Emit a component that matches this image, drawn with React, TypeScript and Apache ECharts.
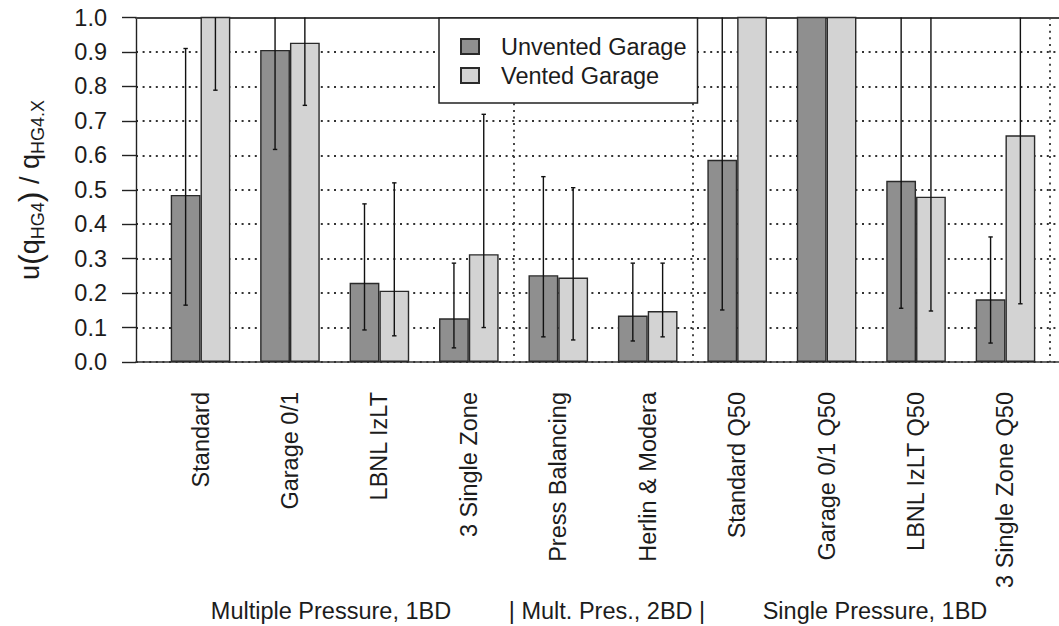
import React, { useEffect, useRef } from 'react';
import * as echarts from 'echarts';

const categories = [
  'Standard',
  'Garage 0/1',
  'LBNL IzLT',
  '3 Single Zone',
  'Press Balancing',
  'Herlin & Modera',
  'Standard Q50',
  'Garage 0/1 Q50',
  'LBNL IzLT Q50',
  '3 Single Zone Q50',
];
const seriesNames = ['Unvented Garage', 'Vented Garage'];
const unvented = [0.485, 0.906, 0.23, 0.127, 0.252, 0.135, 0.587, 1.15, 0.526, 0.182];
const vented = [1.12, 0.927, 0.207, 0.313, 0.245, 0.148, 1.15, 1.15, 0.48, 0.658];
const unventedLow = [0.165, 0.617, 0.093, 0.041, 0.073, 0.061, 0.151, null, 0.156, 0.055];
const unventedHigh = [0.91, 1.2, 0.459, 0.287, 0.538, 0.287, 1.25, null, 1.2, 0.363];
const ventedLow = [0.789, 0.745, 0.076, 0.1, 0.064, 0.073, null, null, 0.148, 0.169];
const ventedHigh = [1.3, 1.2, 0.52, 0.719, 0.506, 0.287, null, null, 1.2, 1.3];
const groupTitles = ['Multiple Pressure, 1BD', '| Mult. Pres., 2BD |', 'Single Pressure, 1BD'];
const groupBoundaries = [4, 6];

const FONT = '"Liberation Sans", Arial, Helvetica, sans-serif';
const FS = 23.5;
const BAR_W = 29.8;
const TEXT_COLOR = '#1c1c1c';

function makeErr(name: string, low: (number | null)[], high: (number | null)[], side: number) {
  const data: number[][] = [];
  low.forEach((lo, i) => {
    const hi = high[i];
    if (lo != null && hi != null) data.push([i, lo, hi]);
  });
  return {
    type: 'custom',
    name,
    xAxisIndex: 0,
    yAxisIndex: 0,
    z: 5,
    silent: true,
    data,
    encode: { x: 0, y: [1, 2] },
    renderItem: (_params: any, api: any) => {
      const i = api.value(0);
      const lo = api.value(1);
      const hi = api.value(2);
      const top = Math.min(hi, 1);
      const p0 = api.coord([i, lo]);
      const p1 = api.coord([i, top]);
      const x = p0[0] + (side * BAR_W) / 2;
      const st = { stroke: '#111', lineWidth: 1.4 };
      const cap = 2.2;
      const children: any[] = [
        { type: 'line', shape: { x1: x, y1: p0[1], x2: x, y2: p1[1] }, style: st },
        { type: 'line', shape: { x1: x - cap, y1: p0[1], x2: x + cap, y2: p0[1] }, style: st },
      ];
      if (hi <= 1) {
        children.push({ type: 'line', shape: { x1: x - cap, y1: p1[1], x2: x + cap, y2: p1[1] }, style: st });
      }
      return { type: 'group', children };
    },
  };
}

export default function App() {
  const ref = useRef<HTMLDivElement>(null);
  useEffect(() => {
    if (!ref.current) return;
    const chart = echarts.init(ref.current, null, { renderer: 'svg' });
    const dotted = { type: [2, 4.6], color: '#333', width: 1.8 };
    const option: any = {
      animation: false,
      backgroundColor: '#fff',
      textStyle: { fontFamily: FONT },
      grid: [
        { left: 155.8, right: 8.8, top: 17.5, bottom: 264 },
        { left: 136, right: -4, top: 17.5, bottom: 264 },
      ],
      legend: {
        data: seriesNames,
        orient: 'vertical',
        left: 439,
        top: 18,
        padding: [14, 11, 13, 21],
        itemWidth: 18,
        itemHeight: 15,
        itemGap: 0,
        icon: 'rect',
        borderColor: '#222',
        borderWidth: 1.5,
        borderRadius: 0,
        backgroundColor: '#fff',
        z: 10,
        textStyle: { fontSize: FS, lineHeight: 29, color: TEXT_COLOR, fontFamily: FONT, padding: [0, 0, 0, 17] },
      },
      xAxis: [
        {
          type: 'category',
          gridIndex: 0,
          data: categories,
          axisLine: { show: false },
          axisTick: { show: false },
          axisLabel: { rotate: 90, margin: 30, fontSize: FS, color: TEXT_COLOR, fontFamily: FONT, interval: 0 },
          splitLine: {
            show: true,
            interval: (idx: number) => groupBoundaries.includes(idx),
            lineStyle: dotted,
          },
        },
        {
          type: 'value',
          gridIndex: 1,
          min: 0,
          max: 1,
          position: 'bottom',
          axisLine: { show: true, lineStyle: { color: '#333', width: 1.6 } },
          axisTick: { show: false },
          axisLabel: { show: false },
          splitLine: { show: false },
        },
        {
          type: 'value',
          gridIndex: 1,
          min: 0,
          max: 1,
          position: 'top',
          axisLine: { show: true, lineStyle: { color: '#444', width: 1.8 } },
          axisTick: { show: false },
          axisLabel: { show: false },
          splitLine: { show: false },
        },
      ],
      yAxis: [
        { type: 'value', gridIndex: 0, min: 0, max: 1, show: false },
        {
          type: 'value',
          gridIndex: 1,
          min: 0,
          max: 1,
          interval: 0.1,
          axisLine: { show: true, lineStyle: { color: '#222', width: 1.4 } },
          axisTick: { show: true, length: 14, lineStyle: { color: '#222', width: 1.4 } },
          axisLabel: {
            margin: 29,
            fontSize: FS,
            color: TEXT_COLOR,
            fontFamily: FONT,
            formatter: (v: number) => v.toFixed(1),
          },
          splitLine: { show: true, lineStyle: dotted },
        },
      ],
      series: [
        {
          type: 'bar',
          name: seriesNames[0],
          xAxisIndex: 0,
          yAxisIndex: 0,
          data: unvented,
          barWidth: BAR_W,
          barGap: '0%',
          clip: true,
          itemStyle: { color: '#8f8f8f', borderColor: '#2a2a2a', borderWidth: 1.4 },
        },
        {
          type: 'bar',
          name: seriesNames[1],
          xAxisIndex: 0,
          yAxisIndex: 0,
          data: vented,
          barWidth: BAR_W,
          barGap: '0%',
          clip: true,
          itemStyle: { color: '#d3d3d3', borderColor: '#2a2a2a', borderWidth: 1.4 },
        },
        makeErr('errU', unventedLow, unventedHigh, -1),
        makeErr('errV', ventedLow, ventedHigh, 1),
      ],
      graphic: [
        {
          type: 'text',
          x: 30,
          y: 190,
          rotation: Math.PI / 2,
          style: {
            text: '{m|u}{p|(}{m|q}{s|HG4}{p|)}{m| / q}{s|HG4.X}',
            align: 'center',
            verticalAlign: 'middle',
            fill: TEXT_COLOR,
            fontFamily: FONT,
            rich: {
              m: { fontSize: 27, lineHeight: 34, fontFamily: FONT, fill: TEXT_COLOR, color: TEXT_COLOR },
              p: { fontSize: 32, lineHeight: 34, fontFamily: FONT, fill: TEXT_COLOR, color: TEXT_COLOR },
              s: { fontSize: 18, lineHeight: 22, verticalAlign: 'bottom', fontFamily: FONT, fill: TEXT_COLOR, color: TEXT_COLOR },
            },
          },
        },
        ...groupTitles.map((t, k) => ({
          type: 'text',
          x: [331, 607, 875][k],
          y: 611,
          style: {
            text: t,
            align: 'center',
            verticalAlign: 'middle',
            fontSize: FS,
            fontFamily: FONT,
            fill: TEXT_COLOR,
          },
        })),
      ],
    };
    chart.setOption(option);
    return () => chart.dispose();
  }, []);
  return (
    <div
      ref={ref}
      style={{ position: 'absolute', left: 0, top: 0, width: 1059, height: 626, background: '#fff' }}
    />
  );
}
